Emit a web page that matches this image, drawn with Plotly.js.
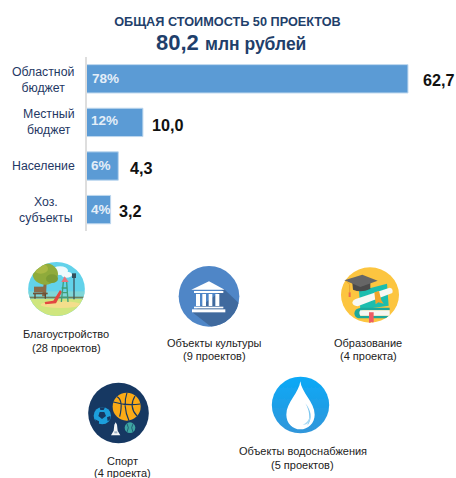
<!DOCTYPE html>
<html><head><meta charset="utf-8">
<script src="https://cdn.plot.ly/plotly-3.0.1.min.js"></script>
<style>html,body{margin:0;padding:0;background:#fff}</style>
</head><body><div id="chart" style="width:456px;height:478px"></div>
<script>
const categories = ['Областной бюджет','Местный бюджет','Население','Хоз. субъекты'];
const categoryLines = ['Областной<br>бюджет','Местный<br>бюджет','Население','Хоз.<br>субъекты'];
const drawnLengths = [62.7, 11.0, 6.2, 4.7];
const percentLabels = ['78%','12%','6%','4%'];
const valueLabels = ['62,7','10,0','4,3','3,2'];
const projectNames = ['Благоустройство','Объекты культуры','Образование','Спорт','Объекты водоснабжения'];
const projectCounts = ['(28 проектов)','(9 проектов)','(4 проекта)','(4 проекта)','(5 проектов)'];

const W = 456, H = 478;
const px = v => v / W, py = v => 1 - v / H;
const FONT = '"Liberation Sans", Arial, sans-serif';

function svg(w, h, body) {
  const s = `<svg xmlns="http://www.w3.org/2000/svg" width="${w}" height="${h}" viewBox="0 0 ${w} ${h}"><defs><filter id="b" x="-5%" y="-5%" width="110%" height="110%"><feGaussianBlur stdDeviation="1.1"/></filter><linearGradient id="g" x1="0" y1="0" x2="0" y2="1"><stop offset="0" stop-color="#0aa9f7"/><stop offset="1" stop-color="#3196da"/></linearGradient></defs><g filter="url(#b)">${body}</g></svg>`;
  return 'data:image/svg+xml;charset=utf-8,' + encodeURIComponent(s);
}

const parkIcon = svg(198, 186, `
<defs><clipPath id="c"><ellipse cx="97.5" cy="93" rx="85" ry="81"/></clipPath></defs>
<g clip-path="url(#c)">
<rect width="198" height="186" fill="#62d2ea"/>
<ellipse cx="108" cy="38" rx="24" ry="13" fill="#eefafc"/><ellipse cx="128" cy="50" rx="16" ry="9" fill="#eefafc"/>
<rect y="100" width="198" height="25" fill="#7fd6d8"/>
<rect y="122" width="198" height="70" fill="#cfe67e"/>
<ellipse cx="110" cy="140" rx="60" ry="10" fill="#f4de8c"/>
<rect x="0" y="116" width="198" height="5" fill="#6f7f5a"/>
<path d="M54 115 L60 70 L68 70 L66 115 Z" fill="#8a6a45"/>
<ellipse cx="64" cy="48" rx="38" ry="32" fill="#8fab3a"/><ellipse cx="50" cy="32" rx="22" ry="15" fill="#a9b944"/><ellipse cx="84" cy="62" rx="18" ry="13" fill="#7c9c34"/>
<rect x="30" y="86" width="36" height="17" fill="#8a6a4a"/><rect x="27" y="104" width="44" height="5" fill="#6e5238"/><rect x="31" y="108" width="4" height="14" fill="#5f4630"/><rect x="62" y="108" width="4" height="14" fill="#5f4630"/>
<path d="M62 132 L88 128 L108 96 L114 102 L96 136 L64 139 Z" fill="#e3473f"/>
<path d="M112 132 L118 72 M132 132 L128 72 M113 90 H131 M113 104 H132 M112 118 H133" stroke="#3f9d78" stroke-width="4" fill="none"/>
<path d="M112 72 L122 55 L134 72 Z" fill="#e9727a"/>
<rect x="148" y="58" width="4" height="66" fill="#3e5560"/><rect x="144" y="46" width="12" height="14" fill="#33505c"/>
</g>`);

const cultureIcon = svg(210, 198, `
<defs><clipPath id="c"><circle cx="105" cy="100" r="91"/></clipPath></defs>
<circle cx="105" cy="100" r="91" fill="#4f86c7"/>
<path d="M150 78 L210 135 L210 198 L120 198 L55 148 Z" fill="#3f6a9e" clip-path="url(#c)"/>
<path d="M52 80 L105 55 L152 80 Z" fill="#fff"/>
<rect x="60" y="84" width="88" height="6" fill="#fff"/>
<rect x="66" y="93" width="12" height="36" fill="#fff"/><rect x="85" y="93" width="11" height="36" fill="#fff"/><rect x="104" y="93" width="11" height="36" fill="#fff"/><rect x="124" y="93" width="12" height="36" fill="#fff"/>
<rect x="60" y="131" width="88" height="5" fill="#fff"/>
<rect x="54" y="139" width="100" height="9" fill="#fff"/>`);

const educationIcon = svg(198, 192, `
<defs><clipPath id="c"><ellipse cx="99" cy="96" rx="87" ry="83"/></clipPath></defs>
<ellipse cx="99" cy="96" rx="87" ry="83" fill="#fcc53f"/>
<g clip-path="url(#c)">
<path d="M66 84 L150 62 L155 128 L70 140 Z" fill="#1fbdae"/>
<path d="M52 152 Q52 136 72 134 L158 134 L158 142 L78 142 Q66 146 70 158 L158 158 L158 166 L70 166 Q54 166 52 152 Z" fill="#1fa89c"/>
<path d="M70 142 H158 V158 H70 Q64 150 70 142 Z" fill="#f7f7f2"/>
<path d="M56 108 L158 74 Q170 76 166 90 L62 130 Q46 128 46 118 Q48 110 56 108 Z" fill="#f8f8f4"/>
<path d="M112 88 L126 84 L133 112 L140 122 L124 118 L116 124 Z" fill="#f0a52b"/>
<path d="M96 148 H110 V184 L103 176 L96 184 Z" fill="#ee5b63"/>
</g>
<path d="M46 60 L100 56 L100 78 Q72 90 48 80 Z" fill="#4b4b4b"/>
<path d="M22 52 L76 35 L122 53 L70 72 Z" fill="#666"/>
<path d="M28 54 L38 64 L38 88" stroke="#e8a22c" stroke-width="3" fill="none"/>
<rect x="35" y="88" width="6" height="14" fill="#ee6b4d"/>`);

const sportIcon = svg(204, 198, `
<circle cx="100.5" cy="99" r="91" fill="#173862"/>
<circle cx="125" cy="80" r="42" fill="#fbab18"/>
<path d="M85 66 Q125 78 166 72 M126 38 Q112 78 132 122 M96 50 Q116 60 104 110 M150 48 Q130 80 156 108" stroke="#173862" stroke-width="3.5" fill="none"/>
<circle cx="52" cy="107" r="26" fill="#1f9fdc"/>
<path d="M44 96 L58 96 L63 108 L51 117 L40 108 Z" fill="#173862"/>
<path d="M30 118 L42 124 L42 132 L34 130 Z M66 112 L76 108 L76 118 L68 124 Z M44 82 L60 82 L56 90 L46 90 Z" fill="#173862"/>
<circle cx="135" cy="143" r="16" fill="#3da6a2"/>
<path d="M126 131 Q134 143 126 156 M144 131 Q136 143 144 156" stroke="#173862" stroke-width="2" fill="none"/>
<path d="M86 152 L88 134 L92 127 L96 134 L98 152 L106 166 L78 166 Z" fill="#f2f5f7"/>
<path d="M88 154 H97 V160 H88 Z" fill="#9fb2c4"/>`);

const waterIcon = svg(198, 186, `
<ellipse cx="97.5" cy="93" rx="86" ry="85" fill="url(#g)"/>
<path d="M97 22 C100 55 140 85 140 122 C140 148 120 166 97 166 C74 166 55 148 55 122 C55 85 94 55 97 22 Z" fill="#fff"/>
<path d="M112 88 C128 108 136 132 118 155 C128 130 124 108 112 88 Z" fill="#7cc6ef"/>
<path d="M104 152 C118 146 124 136 126 122 C130 140 120 154 104 152 Z" fill="#a9daf5"/>`);

const images = [
  {source: parkIcon, x: 24, y: 258, w: 66, h: 62},
  {source: cultureIcon, x: 174, y: 263, w: 70, h: 66},
  {source: educationIcon, x: 337, y: 263, w: 66, h: 64},
  {source: sportIcon, x: 85, y: 380, w: 68, h: 66},
  {source: waterIcon, x: 268, y: 374, w: 66, h: 62}
].map(i => ({source: i.source, xref: 'paper', yref: 'paper', x: px(i.x), y: py(i.y), sizex: i.w / W, sizey: i.h / H, xanchor: 'left', yanchor: 'top', sizing: 'stretch', layer: 'above'}));

const NAVY = '#1f3864', TITLE = '#1f3f6b';
const annotations = [];
function note(text, x, y, size, color, extra) {
  annotations.push(Object.assign({text, xref: 'paper', yref: 'paper', x: px(x), y: py(y), xanchor: 'center', yanchor: 'middle', align: 'center', showarrow: false, font: {family: FONT, size, color}}, extra || {}));
}
note('<b>80,2 <span style="font-size:17.5px">млн рублей</span></b>', 230.5, 42.5, 22, TITLE);

const catPos = [[43, 79.5], [49, 122.5], [43, 165.5], [46, 209.5]];
categoryLines.forEach((t, i) => note(t, catPos[i][0], catPos[i][1], 12.3, NAVY));

const valueShift = [[13, -1], [7, -3], [10, -2], [6, -1]];
valueLabels.forEach((t, i) => annotations.push({text: '<b>' + t + '</b>', xref: 'x', yref: 'y', x: drawnLengths[i], y: categories[i], xanchor: 'left', yanchor: 'middle', xshift: valueShift[i][0], yshift: valueShift[i][1], showarrow: false, font: {family: FONT, size: 16.2, color: '#111'}}));

const pctShift = [[3, 0], [2, 2], [2, 1], [2, 0]];
percentLabels.forEach((t, i) => annotations.push({text: '<b>' + t + '</b>', xref: 'x', yref: 'y', x: 0, y: categories[i], xanchor: 'left', yanchor: 'middle', xshift: pctShift[i][0], yshift: pctShift[i][1], showarrow: false, font: {family: FONT, size: 13.5, color: '#e4eef8'}}));

const projX = [66, 214.5, 368, 122, 302.7];
const projY = [[334, 347.5], [343, 356], [343, 356], [460.5, 472.5], [451, 464.5]];
projectNames.forEach((t, i) => {
  note(t, projX[i], projY[i][0], 11, '#222');
  note(projectCounts[i], projX[i], projY[i][1], 11, '#222');
});

const trace = {
  type: 'bar', orientation: 'h', y: categories, x: drawnLengths,
  marker: {color: '#5b9bd5', line: {color: '#bdd7ee', width: 1}},
  hoverinfo: 'skip', cliponaxis: false
};

const layout = {
  width: W, height: H, autosize: false, margin: {l: 0, r: 0, t: 0, b: 0}, showlegend: false,
  paper_bgcolor: '#fff', plot_bgcolor: '#fff', bargap: 0.35,
  title: {text: '<b>ОБЩАЯ СТОИМОСТЬ 50 ПРОЕКТОВ</b>', font: {family: FONT, size: 12.7, color: TITLE}, xref: 'paper', yref: 'paper', x: px(227.5), y: py(21.5), xanchor: 'center', yanchor: 'middle'},
  xaxis: {domain: [px(86.5), 1], range: [0, 72.07], visible: false, fixedrange: true},
  yaxis: {domain: [py(231.4), py(57)], type: 'category', categoryorder: 'array', categoryarray: categories, autorange: 'reversed', showticklabels: false, ticks: '', showgrid: false, zeroline: false, showline: true, linecolor: '#dedede', linewidth: 1.5, fixedrange: true},
  annotations, images
};
Plotly.newPlot('chart', [trace], layout, {displayModeBar: false, staticPlot: true});
</script></body></html>
